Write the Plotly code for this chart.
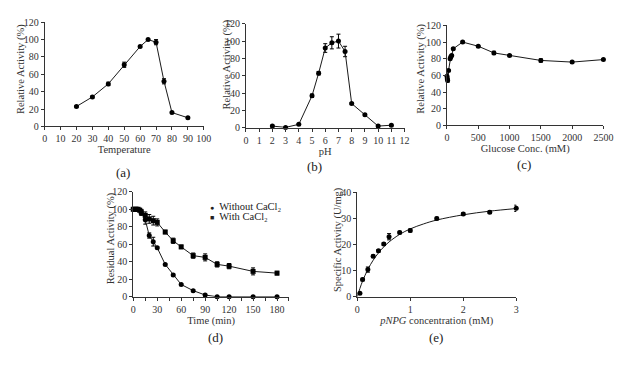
import plotly.graph_objects as go

# ---------------- data ----------------
temp_x = [20, 30, 40, 50, 60, 65, 70, 75, 80, 90]
temp_y = [23, 34, 49, 71, 92, 100, 97, 52, 16, 10]
temp_err = [1, 1, 2, 3, 1, 1, 3, 3, 1, 1]

ph_x = [2, 3, 4, 5, 5.5, 6, 6.5, 7, 7.5, 8, 9, 10, 11]
ph_y = [2, 0.5, 4, 37, 63, 92, 98, 100, 88, 28, 15, 2, 3]
ph_err = [1, 0.5, 1, 2, 2, 5, 7, 8, 6, 1, 1, 1, 1]

glc_x = [0, 5, 10, 25, 50, 60, 75, 100, 250, 500, 750, 1000, 1500, 2000, 2500]
glc_y = [59, 56, 54, 66, 80, 82, 84, 92, 100, 95, 87, 84, 78, 76, 79]
glc_err = [3, 2, 2, 1, 1, 1, 1, 1, 1, 1, 2, 1, 2, 1, 1]

t_without = [0, 5, 10, 15, 20, 25, 30, 40, 50, 60, 75, 90, 105, 120, 150, 180]
a_without = [100, 100, 96, 88, 70, 63, 56, 37, 25, 14, 7, 2, 0, 0, 0, 0]
e_without = [1, 1, 3, 5, 3, 5, 1, 1, 1, 1, 1, 1, 0.5, 0.5, 0.5, 0.5]

t_with = [0, 2, 4, 6, 8, 10, 15, 20, 25, 30, 40, 50, 60, 75, 90, 105, 120, 150, 180]
a_with = [100, 100, 100, 100, 99, 97, 93, 89, 87, 85, 74, 64, 57, 47, 45, 37, 35, 29, 27]
e_with = [1, 1, 1, 1, 2, 3, 4, 5, 5, 4, 2, 3, 2, 3, 4, 3, 3, 4, 2]

pnpg_x = [0.05, 0.1, 0.2, 0.3, 0.4, 0.5, 0.6, 0.8, 1.0, 1.5, 2.0, 2.5, 3.0]
pnpg_y = [1.3, 6.6, 10.4, 15.5, 17.6, 20.2, 23.0, 24.6, 25.4, 30.0, 31.7, 32.4, 33.9]
pnpg_err = [0.3, 0.5, 1.0, 0.5, 0.5, 0.5, 1.2, 0.5, 0.6, 0.5, 0.5, 0.5, 1.2]

fit_x = [0, 0.05, 0.1, 0.2, 0.3, 0.4, 0.5, 0.6, 0.8, 1.0, 1.25, 1.5, 2.0, 2.5, 3.0]
fit_y = [0, 3.2, 6.0, 10.5, 14.0, 16.8, 19.1, 21.0, 23.9, 26.0, 27.9, 29.4, 31.4, 32.8, 33.8]

panel_labels = ["(a)", "(b)", "(c)", "(d)", "(e)"]
y_titles = ["Relative Activity (%)", "Relative Activity (%)", "Relative Activity (%)",
            "Residual Activity (%)", "Specific Activity (U/mg)"]
x_titles = ["Temperature", "pH", "Glucose Conc. (mM)", "Time (min)",
            "<i>pNPG</i> concentration (mM)"]
legend_names = ["Without CaCl\u2082", "With CaCl\u2082"]

# ---------------- style ----------------
FONT = "Liberation Serif"
LINE_C = "#1a1a1a"
MARK_C = "#000000"
W, H = 633, 389


def px_x(p):
    return p / W


def px_y(p):
    return (H - p) / H


fig = go.Figure()


def add_series(x, y, err, xa, ya, symbol="circle", size=5):
    fig.add_trace(go.Scatter(
        x=x, y=y, xaxis=xa, yaxis=ya, mode="lines+markers",
        line=dict(color=LINE_C, width=1),
        marker=dict(color=MARK_C, size=size, symbol=symbol),
        error_y=dict(type="data", array=err, color=MARK_C, thickness=1, width=2),
        cliponaxis=False, showlegend=False,
    ))


add_series(temp_x, temp_y, temp_err, "x", "y")
add_series(ph_x, ph_y, ph_err, "x2", "y2")
add_series(glc_x, glc_y, glc_err, "x3", "y3")
add_series(t_without, a_without, e_without, "x4", "y4", "circle", 5)
add_series(t_with, a_with, e_with, "x4", "y4", "square", 5)

fig.add_trace(go.Scatter(
    x=fit_x, y=fit_y, xaxis="x5", yaxis="y5", mode="lines",
    line=dict(color=LINE_C, width=1, shape="spline"), showlegend=False,
    cliponaxis=False,
))
fig.add_trace(go.Scatter(
    x=pnpg_x, y=pnpg_y, xaxis="x5", yaxis="y5", mode="markers",
    marker=dict(color=MARK_C, size=5),
    error_y=dict(type="data", array=pnpg_err, color=MARK_C, thickness=1, width=2),
    cliponaxis=False, showlegend=False,
))

tickfont = dict(family=FONT, size=10, color="#333")
titlefont = dict(family=FONT, size=10.5, color="#333")


def xax(domain, anchor, rng, tickvals, ticktext, title, standoff=2):
    return dict(domain=domain, anchor=anchor, range=rng, tickvals=tickvals,
                ticktext=ticktext, showgrid=False, zeroline=False,
                showline=True, linecolor="#333", linewidth=1,
                ticks="outside", ticklen=3, tickcolor="#333", tickwidth=1,
                tickfont=tickfont, title=dict(text=title, font=titlefont, standoff=standoff))


def yax(domain, anchor, rng, dtick):
    return dict(domain=domain, anchor=anchor, range=rng, dtick=dtick, tick0=0,
                showgrid=False, zeroline=False,
                showline=True, linecolor="#333", linewidth=1,
                ticks="outside", ticklen=3, tickcolor="#333", tickwidth=1,
                tickfont=tickfont)


a_ticks = list(range(0, 101, 10))
b_ticks = list(range(0, 13))
c_ticks = [0, 500, 1000, 1500, 2000, 2500]
d_ticks = list(range(0, 196, 15))
d_text = [str(v) if v % 30 == 0 and v <= 180 else "" for v in d_ticks]
e_ticks = [0, 1, 2, 3]

fig.update_layout(
    width=W, height=H, margin=dict(l=0, r=0, t=0, b=0),
    paper_bgcolor="white", plot_bgcolor="white",
    font=dict(family=FONT, color="#333"),
    xaxis=xax([px_x(42.5), px_x(205)], "y", [0, 100], a_ticks, [str(v) for v in a_ticks], x_titles[0]),
    yaxis=yax([px_y(124.3), px_y(16.7)], "x", [0, 120], 20),
    xaxis2=xax([px_x(248), px_x(410)], "y2", [0, 12], b_ticks, [str(v) for v in b_ticks], x_titles[1]),
    yaxis2=yax([px_y(125.7), px_y(18.3)], "x2", [0, 120], 20),
    xaxis3=xax([px_x(453.3), px_x(613)], "y3", [0, 2500], c_ticks, [str(v) for v in c_ticks], x_titles[2]),
    yaxis3=yax([px_y(123.3), px_y(20)], "x3", [0, 120], 20),
    xaxis4=xax([px_x(133), px_x(292)], "y4", [0, 195], d_ticks, d_text, x_titles[3]),
    yaxis4=yax([px_y(300), px_y(191.7)], "x4", [0, 120], 20),
    xaxis5=xax([px_x(361.7), px_x(524)], "y5", [0, 3], e_ticks, [str(v) for v in e_ticks], x_titles[4]),
    yaxis5=yax([px_y(300), px_y(192.3)], "x5", [0, 40], 10),
)

# y-axis titles
ytitle_pos = [(18.5, 65), (229, 60), (426.5, 65), (110, 240), (341.5, 241)]
for txt, (tx, ty) in zip(y_titles, ytitle_pos):
    fig.add_annotation(x=px_x(tx), y=px_y(ty), xref="paper", yref="paper",
                       text=txt, textangle=-90, showarrow=False, font=titlefont,
                       xanchor="center", yanchor="middle")

# panel labels
label_pos = [(123, 172), (318, 166), (532, 164), (217, 342), (442, 342)]
for txt, (lx, ly) in zip(panel_labels, label_pos):
    fig.add_annotation(x=px_x(lx), y=px_y(ly), xref="paper", yref="paper",
                       text=txt, showarrow=False, font=dict(family=FONT, size=13, color="#222"),
                       xanchor="center", yanchor="middle")

# legend for panel (d)
legend_marks = ["\u25CF", "\u25A0"]
legend_rows = [207, 217.5]
for mk, name, ly in zip(legend_marks, legend_names, legend_rows):
    fig.add_annotation(x=px_x(210), y=px_y(ly), xref="paper", yref="paper",
                       text="<span style='font-size:7px'>" + mk + "</span>  " + name,
                       showarrow=False, font=dict(family=FONT, size=10.5, color="#222"),
                       xanchor="left", yanchor="middle", borderpad=0)

fig.write_html("out.html", config={"displayModeBar": False},
               post_script="document.body.style.margin='0';document.body.style.overflow='hidden';")
